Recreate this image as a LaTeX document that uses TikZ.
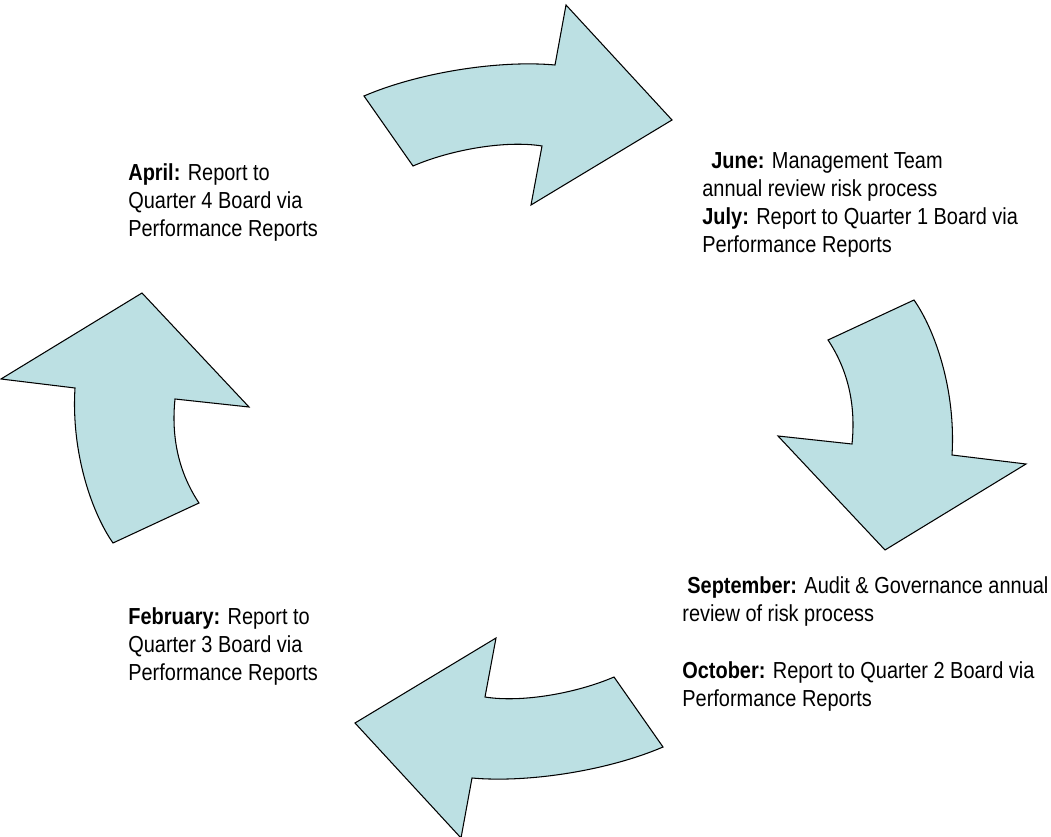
\documentclass[tikz,border=0pt]{standalone}
\usepackage{fontspec}
\setmainfont{Liberation Sans}[FakeStretch=0.86]
\usepackage{tikz}

\definecolor{iceblue}{HTML}{BCE0E3}
\newcommand\notefont{\fontsize{13.2}{15.9}\selectfont}

\begin{document}
\begin{tikzpicture}[x=0.02cm,y=-0.02cm,
  cyclearrow/.style={fill=iceblue,draw=black,line width=0.6pt,line join=miter},
  note/.style={anchor=north west,inner sep=0pt,align=left,font=\notefont}]
\useasboundingbox (0,0) rectangle (1051,837);
% two arrows, then the same two turned half way round the middle
\foreach \turn in {0,180} {
  \begin{scope}[rotate around={\turn:(513.5,421.5)}]
  \draw[cyclearrow] (364,96) .. controls (420,72) and (500,60) .. (555,65)
     -- (566,5) -- (672,120) -- (531,205) -- (542,146)
     .. controls (505,140) and (450,150) .. (413,166) -- cycle;
  \draw[cyclearrow] (914,300) .. controls (935,330) and (956,390) .. (952,455)
     -- (1026,464) -- (885,550) -- (778,436) -- (852,444)
     .. controls (856,405) and (848,370) .. (828,340) -- cycle;
  \end{scope}
}
\node[note] (april) at (128,163)
  {\textbf{April:} Report to\\Quarter 4 Board via\\Performance Reports};
\node[note] (june) at (702,152)
  {\hspace*{0.18cm}\textbf{June:} Management Team\\annual review risk process\\
   \textbf{July:} Report to Quarter 1 Board via\\Performance Reports};
\node[note] (september) at (682,576)
  {\hspace*{0.1cm}\textbf{September:} Audit \& Governance annual\\review of risk process\\[17pt]
   \textbf{October:} Report to Quarter 2 Board via\\Performance Reports};
\node[note] (february) at (128,607)
  {\textbf{February:} Report to\\Quarter 3 Board via\\Performance Reports};
\end{tikzpicture}
\end{document}
